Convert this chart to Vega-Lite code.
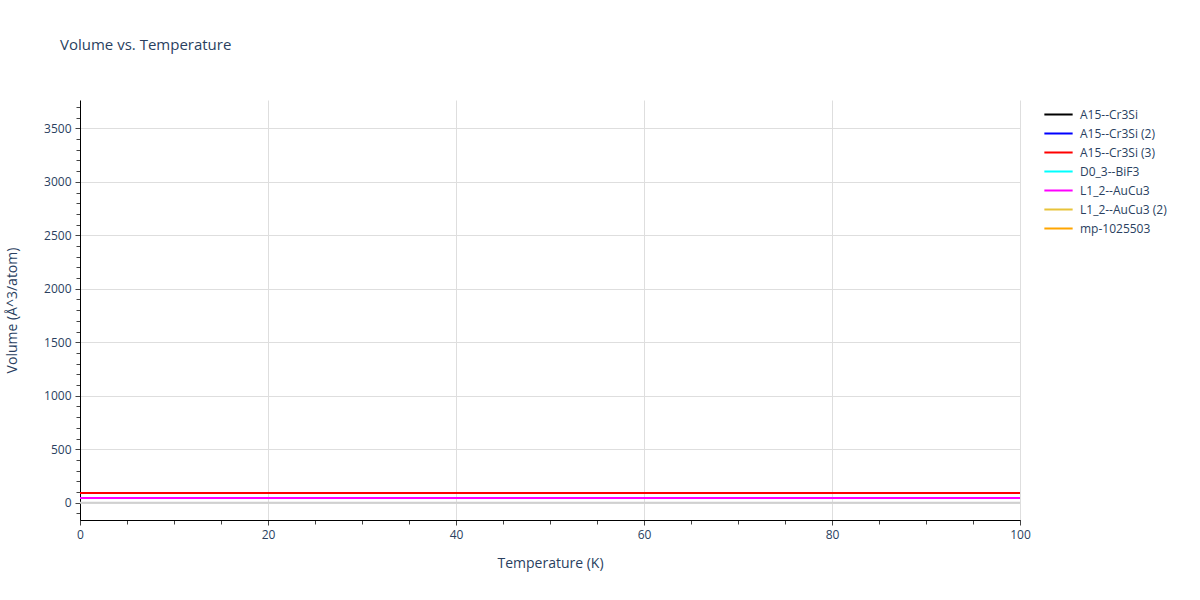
{
  "$schema": "https://vega.github.io/schema/vega-lite/v6.json",
  "width": 940,
  "height": 420,
  "autosize": "none",
  "padding": {"left": 80, "top": 100, "right": 180, "bottom": 80},
  "background": "white",
  "config": {
    "font": "Open Sans",
    "view": {"stroke": null}
  },
  "title": {
    "text": "Volume vs. Temperature",
    "anchor": "start",
    "frame": "group",
    "dx": -20,
    "offset": 47,
    "fontSize": 15,
    "fontWeight": "normal",
    "color": "#2a3f5f",
    "font": "Open Sans"
  },
  "datasets": {
    "curves": [
      {"series": "A15--Cr3Si", "T": 0, "V": 90},
      {"series": "A15--Cr3Si", "T": 50, "V": 90},
      {"series": "A15--Cr3Si", "T": 100, "V": 90},
      {"series": "A15--Cr3Si (2)", "T": 0, "V": 90},
      {"series": "A15--Cr3Si (2)", "T": 50, "V": 90},
      {"series": "A15--Cr3Si (2)", "T": 100, "V": 90},
      {"series": "A15--Cr3Si (3)", "T": 0, "V": 90},
      {"series": "A15--Cr3Si (3)", "T": 50, "V": 90},
      {"series": "A15--Cr3Si (3)", "T": 100, "V": 90},
      {"series": "D0_3--BiF3", "T": 0, "V": 43},
      {"series": "D0_3--BiF3", "T": 50, "V": 43},
      {"series": "D0_3--BiF3", "T": 100, "V": 43},
      {"series": "L1_2--AuCu3", "T": 0, "V": 43},
      {"series": "L1_2--AuCu3", "T": 50, "V": 43},
      {"series": "L1_2--AuCu3", "T": 100, "V": 43}
    ],
    "zero": [{"V": 0}],
    "ticks": [{"T": 0, "V": 0}]
  },
  "layer": [
    {
      "data": {"name": "ticks"},
      "mark": {"type": "point", "opacity": 0},
      "encoding": {
        "x": {
          "field": "T",
          "type": "quantitative",
          "scale": {"domain": [0, 100], "nice": false, "zero": false},
          "axis": {
            "orient": "bottom",
            "values": [0, 5, 10, 15, 20, 25, 30, 35, 40, 45, 50, 55, 60, 65, 70, 75, 80, 85, 90, 95, 100],
            "labels": false,
            "title": null,
            "grid": false,
            "domain": false,
            "tickColor": "#444",
            "tickSize": 4
          }
        },
        "y": {
          "field": "V",
          "type": "quantitative",
          "scale": {"domain": [-162, 3765], "nice": false, "zero": false},
          "axis": {
            "orient": "left",
            "values": [-100, 0, 100, 200, 300, 400, 500, 600, 700, 800, 900, 1000, 1100, 1200, 1300, 1400, 1500, 1600, 1700, 1800, 1900, 2000, 2100, 2200, 2300, 2400, 2500, 2600, 2700, 2800, 2900, 3000, 3100, 3200, 3300, 3400, 3500, 3600, 3700],
            "labels": false,
            "title": null,
            "grid": false,
            "domain": false,
            "tickColor": "#444",
            "tickSize": 4
          }
        }
      }
    },
    {
      "data": {"name": "zero"},
      "mark": {"type": "rule", "color": "#d0d0d0", "strokeWidth": 2},
      "encoding": {
        "y": {
          "field": "V",
          "type": "quantitative",
          "scale": {"domain": [-162, 3765], "nice": false, "zero": false},
          "axis": {
            "orient": "left",
            "values": [0, 500, 1000, 1500, 2000, 2500, 3000, 3500],
            "format": "d",
            "title": "Volume (Å^3/atom)",
            "titleFontSize": 14,
            "titleFontWeight": "normal",
            "titleColor": "#2a3f5f",
            "titlePadding": 24,
            "labelFontSize": 12,
            "labelColor": "#2a3f5f",
            "labelPadding": 4,
            "grid": true,
            "gridColor": "#dedede",
            "domainColor": "#000",
            "tickColor": "#444",
            "tickSize": 5
          }
        }
      }
    },
    {
      "data": {"name": "curves"},
      "mark": {"type": "line", "strokeWidth": 2},
      "encoding": {
        "x": {
          "field": "T",
          "type": "quantitative",
          "scale": {"domain": [0, 100], "nice": false, "zero": false},
          "axis": {
            "orient": "bottom",
            "values": [0, 20, 40, 60, 80, 100],
            "title": "Temperature (K)",
            "titleFontSize": 14,
            "titleFontWeight": "normal",
            "titleColor": "#2a3f5f",
            "titlePadding": 16,
            "labelFontSize": 12,
            "labelColor": "#2a3f5f",
            "labelPadding": 4,
            "labelFlush": false,
            "grid": true,
            "gridColor": "#dedede",
            "domainColor": "#000",
            "tickColor": "#444",
            "tickSize": 5
          }
        },
        "y": {"field": "V", "type": "quantitative", "axis": null},
        "color": {
          "field": "series",
          "type": "nominal",
          "scale": {
            "domain": ["A15--Cr3Si", "A15--Cr3Si (2)", "A15--Cr3Si (3)", "D0_3--BiF3", "L1_2--AuCu3", "L1_2--AuCu3 (2)", "mp-1025503"],
            "range": ["#000000", "#0000ff", "#ff0000", "#00ffff", "#ff00ff", "#e8c33a", "#ffa500"]
          },
          "legend": {
            "title": null,
            "orient": "none",
            "legendX": 963,
            "legendY": 6,
            "symbolType": "stroke",
            "symbolSize": 800,
            "symbolStrokeWidth": 2,
            "labelFontSize": 12,
            "labelColor": "#2a3f5f",
            "clipHeight": 17,
            "rowPadding": 2,
            "labelOffset": 6
          }
        }
      }
    }
  ],
  "resolve": {"axis": {"x": "independent", "y": "independent"}}
}
